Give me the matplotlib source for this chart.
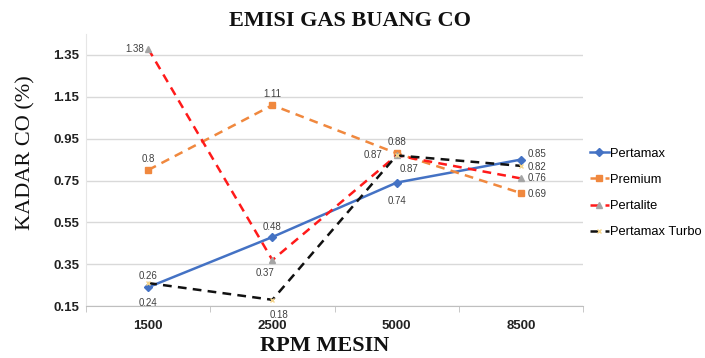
import matplotlib
matplotlib.use("Agg")
import matplotlib.pyplot as plt
import numpy as np

categories = ["1500", "2500", "5000", "8500"]
pertamax = [0.24, 0.48, 0.74, 0.85]
premium = [0.80, 1.11, 0.88, 0.69]
pertalite = [1.38, 0.37, 0.87, 0.76]
turbo = [0.26, 0.18, 0.87, 0.82]
yticks = [0.15, 0.35, 0.55, 0.75, 0.95, 1.15, 1.35]

sans = ['Liberation Sans Narrow', 'Liberation Sans', 'DejaVu Sans']
serif = ['Liberation Serif', 'DejaVu Serif']

fig = plt.figure(figsize=(7.05, 3.58), dpi=100)
ax = fig.add_axes([0.122, 0.145, 0.705, 0.76])
x = np.arange(len(categories))

series = [
    ("Pertamax", pertamax, dict(color="#4472C4", ls="-", marker="D", ms=4, lw=1.8)),
    ("Premium", premium, dict(color="#F0883E", ls=(0, (3.5, 2.5)), marker="s", ms=5, lw=1.8)),
    ("Pertalite", pertalite, dict(color="#FF1A1A", ls=(0, (3.5, 2.5)), marker="^", ms=4,
                                   mfc="#A5A5A5", mec="#A5A5A5", lw=1.8)),
    ("Pertamax Turbo", turbo, dict(color="#111111", ls=(0, (3.5, 2.5)), marker="x", ms=3,
                                    mec="#F5D58C", lw=1.8)),
]
for name, vals, st in series:
    ax.plot(x, vals, label=name, **st)

# data labels: (offset x pts, offset y pts, ha)
offs = {
    "Pertamax": [(0, -11, "center"), (0, 7, "center"), (0, -13, "center"), (5, 4, "left")],
    "Premium": [(0, 8, "center"), (0, 8, "center"), (0, 8, "center"), (5, -1, "left")],
    "Pertalite": [(-3, 0, "right"), (-5, -9, "center"), (-10, 0, "right"), (5, 0, "left")],
    "Pertamax Turbo": [(0, 5, "center"), (5, -11, "center"), (9, -10, "center"), (5, -1, "left")],
}
for name, vals, st in series:
    for i, v in enumerate(vals):
        dx, dy, ha = offs[name][i]
        ax.annotate(f"{v:g}", (x[i], v), xytext=(dx, dy), textcoords="offset points",
                    ha=ha, va="center", fontsize=7, color="#404040", family=sans)

ax.set_xlim(-0.5, 3.5)
ax.set_ylim(0.15, 1.45)
ax.set_yticks(yticks)
ax.set_yticklabels([f"{t:.2f}" for t in yticks], family=sans, fontsize=9.5,
                   color="#222222", fontweight="bold")
ax.set_xticks(x)
ax.set_xticklabels(categories, family=sans, fontsize=9.5, color="#222222", fontweight="bold")
ax.set_xticks(np.arange(-0.5, 4.0, 1.0), minor=True)
ax.tick_params(axis="x", which="major", length=0, pad=10)
ax.tick_params(axis="x", which="minor", length=4, color="#BFBFBF", direction="out")
ax.tick_params(axis="y", length=0, pad=5)
ax.grid(axis="y", color="#D9D9D9", lw=1)
ax.set_axisbelow(True)
for s in ["top", "right"]:
    ax.spines[s].set_visible(False)
ax.spines["left"].set_color("#E6E6E6")
ax.spines["bottom"].set_color("#BFBFBF")

fig.text(0.497, 0.94, "EMISI GAS BUANG CO", ha="center", va="center",
         family=serif, fontsize=16, fontweight="bold", color="#111111")
fig.text(0.036, 0.573, "KADAR CO (%)", rotation=90, ha="center", va="center",
         family=serif, fontsize=16, color="#111111")
fig.text(0.46, 0.006, "RPM MESIN", ha="center", va="bottom",
         family=serif, fontsize=16, fontweight="bold", color="#111111")

leg = fig.legend(loc="upper left", bbox_to_anchor=(0.82, 0.62), frameon=False,
                 prop={"family": sans, "size": 9.3}, handlelength=1.5,
                 handletextpad=0.1, labelspacing=1.1)
fig.savefig("out.png", dpi=100)
